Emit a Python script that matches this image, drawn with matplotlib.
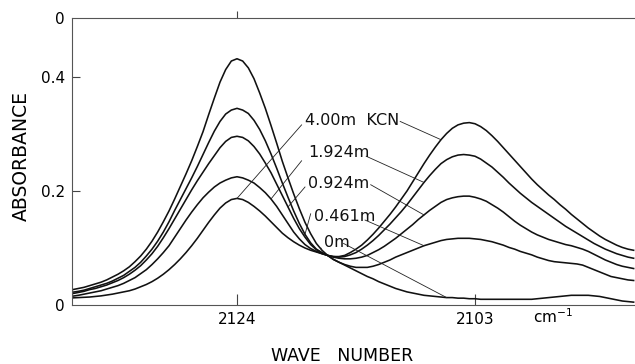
import matplotlib.pyplot as plt
import numpy as np

# IR absorbance of the CN stretch region for increasing KCN molality
wavenumber = np.arange(2139, 2088.75, -0.5)  # cm^-1, 2139 ... 2089

absorb_0m = [
    0.025, 0.027, 0.029, 0.031, 0.034, 0.037, 0.040, 0.044, 0.049, 0.054,
    0.060, 0.067, 0.076, 0.086, 0.098, 0.112, 0.128, 0.146, 0.165, 0.186,
    0.208, 0.230, 0.253, 0.278, 0.304, 0.334, 0.363, 0.391, 0.413, 0.428,
    0.432, 0.428, 0.416, 0.397, 0.372, 0.345, 0.315, 0.284, 0.252, 0.223,
    0.195, 0.169, 0.145, 0.125, 0.108, 0.096, 0.087, 0.080, 0.075, 0.070,
    0.065, 0.060, 0.055, 0.050, 0.046, 0.041, 0.037, 0.033, 0.029, 0.026,
    0.023, 0.021, 0.019, 0.017, 0.016, 0.015, 0.014, 0.013, 0.013, 0.012,
    0.012, 0.011, 0.011, 0.010, 0.010, 0.010, 0.010, 0.010, 0.010, 0.010,
    0.010, 0.010, 0.010, 0.011, 0.012, 0.013, 0.014, 0.015, 0.016, 0.017,
    0.017, 0.017, 0.017, 0.016, 0.015, 0.013, 0.011, 0.009, 0.007, 0.006,
    0.005,
]
absorb_0461m = [
    0.021, 0.0225, 0.024, 0.026, 0.029, 0.032, 0.035, 0.038, 0.042, 0.047,
    0.052, 0.059, 0.066, 0.075, 0.086, 0.098, 0.112, 0.128, 0.146, 0.166,
    0.185, 0.204, 0.223, 0.243, 0.264, 0.285, 0.305, 0.322, 0.335, 0.342,
    0.345, 0.342, 0.336, 0.324, 0.308, 0.288, 0.265, 0.240, 0.214, 0.189,
    0.165, 0.143, 0.124, 0.109, 0.098, 0.092, 0.087, 0.080, 0.075, 0.071,
    0.068, 0.066, 0.066, 0.066, 0.068, 0.071, 0.075, 0.079, 0.084, 0.088,
    0.092, 0.096, 0.100, 0.104, 0.107, 0.110, 0.113, 0.115, 0.116, 0.117,
    0.117, 0.117, 0.116, 0.115, 0.113, 0.111, 0.108, 0.105, 0.101, 0.098,
    0.094, 0.091, 0.088, 0.084, 0.081, 0.078, 0.076, 0.075, 0.074, 0.073,
    0.072, 0.070, 0.066, 0.062, 0.058, 0.054, 0.050, 0.048, 0.046, 0.044,
    0.043,
]
absorb_0924m = [
    0.019, 0.020, 0.022, 0.024, 0.027, 0.029, 0.032, 0.035, 0.039, 0.043,
    0.048, 0.054, 0.061, 0.069, 0.079, 0.090, 0.103, 0.118, 0.134, 0.151,
    0.168, 0.185, 0.202, 0.218, 0.233, 0.248, 0.262, 0.276, 0.287, 0.294,
    0.296, 0.294, 0.288, 0.278, 0.265, 0.249, 0.232, 0.212, 0.192, 0.172,
    0.152, 0.134, 0.119, 0.106, 0.097, 0.091, 0.087, 0.084, 0.082, 0.081,
    0.081, 0.082, 0.084, 0.087, 0.092, 0.097, 0.103, 0.110, 0.117, 0.125,
    0.133, 0.141, 0.150, 0.158, 0.166, 0.173, 0.180, 0.185, 0.188, 0.190,
    0.191, 0.191, 0.189, 0.186, 0.182, 0.176, 0.170, 0.163, 0.155, 0.147,
    0.140, 0.134, 0.128, 0.123, 0.119, 0.115, 0.112, 0.109, 0.106, 0.104,
    0.101, 0.098, 0.094, 0.089, 0.084, 0.079, 0.075, 0.071, 0.068, 0.066,
    0.064,
]
absorb_1924m = [
    0.014, 0.0155, 0.017, 0.019, 0.021, 0.023, 0.025, 0.028, 0.031, 0.034,
    0.038, 0.043, 0.048, 0.055, 0.062, 0.071, 0.081, 0.092, 0.104, 0.119,
    0.134, 0.149, 0.163, 0.176, 0.188, 0.198, 0.207, 0.214, 0.219, 0.223,
    0.225, 0.223, 0.219, 0.214, 0.206, 0.197, 0.186, 0.173, 0.158, 0.143,
    0.128, 0.116, 0.106, 0.099, 0.094, 0.090, 0.087, 0.085, 0.084, 0.085,
    0.088, 0.092, 0.098, 0.105, 0.113, 0.122, 0.132, 0.142, 0.153, 0.164,
    0.176, 0.189, 0.202, 0.215, 0.227, 0.238, 0.248, 0.255, 0.260, 0.263,
    0.264, 0.263, 0.261, 0.256, 0.249, 0.242, 0.233, 0.224, 0.214, 0.205,
    0.196, 0.188, 0.180, 0.173, 0.166, 0.159, 0.152, 0.145, 0.138, 0.132,
    0.126, 0.120, 0.114, 0.108, 0.103, 0.098, 0.094, 0.090, 0.087, 0.084,
    0.082,
]
absorb_400m = [
    0.012, 0.0125, 0.013, 0.0135, 0.014, 0.015, 0.016, 0.0175, 0.019, 0.021,
    0.023, 0.025, 0.028, 0.032, 0.036, 0.041, 0.047, 0.054, 0.062, 0.071,
    0.081, 0.092, 0.104, 0.117, 0.131, 0.145, 0.158, 0.170, 0.179, 0.185,
    0.187, 0.185, 0.180, 0.173, 0.165, 0.156, 0.146, 0.136, 0.126, 0.118,
    0.111, 0.105, 0.100, 0.096, 0.093, 0.090, 0.087, 0.085, 0.085, 0.087,
    0.092, 0.098, 0.105, 0.114, 0.124, 0.135, 0.147, 0.159, 0.172, 0.186,
    0.200, 0.216, 0.232, 0.248, 0.263, 0.277, 0.290, 0.301, 0.310, 0.316,
    0.319, 0.320, 0.318, 0.313, 0.306, 0.297, 0.287, 0.276, 0.265, 0.254,
    0.243, 0.232, 0.221, 0.211, 0.202, 0.193, 0.185, 0.176, 0.168, 0.159,
    0.151, 0.143, 0.135, 0.128, 0.121, 0.115, 0.110, 0.105, 0.101, 0.098,
    0.096,
]

spectra = [absorb_400m, absorb_1924m, absorb_0924m, absorb_0461m, absorb_0m]
conc_labels = ["4.00m  KCN", "1.924m", "0.924m", "0.461m", "0m"]

# label anchors (wavenumber, absorbance), leader start points and the
# wavenumber on each spectrum where its leader lands
label_pos = [(2118.0, 0.323), (2117.7, 0.267), (2117.7, 0.214), (2117.2, 0.156), (2116.3, 0.110)]
right_start = [(2109.6, 0.322), (2112.6, 0.261), (2112.2, 0.211), (2112.7, 0.149), (2114.6, 0.108)]
right_target = [2106.0, 2107.5, 2107.5, 2107.5, 2105.5]
left_start = [(2118.3, 0.316), (2118.3, 0.253), (2118.0, 0.207), (2117.5, 0.160), (2116.6, 0.100)]
left_target = [2124.0, 2121.0, 2119.5, 2118.0, 2116.5]

x_left, x_right = 2138.56, 2088.88
y_top = 0.5035

fig = plt.figure(figsize=(6.35, 3.64), dpi=100)
ax = fig.add_axes([72 / 635, 1 - 305 / 364, 1 - 72 / 635, (305 - 18) / 364])

for y in spectra:
    ax.plot(wavenumber, y, color="#111111", lw=1.15, solid_joinstyle="round")


def value_at(y, w):
    return y[int(np.argmin(np.abs(wavenumber - w)))]


for i, text in enumerate(conc_labels):
    ax.text(label_pos[i][0], label_pos[i][1], text, fontsize=11.5, va="center",
            ha="left", color="#111111")
    y = spectra[i]
    for start, w in [(right_start[i], right_target[i]), (left_start[i], left_target[i])]:
        ax.plot([start[0], w], [start[1], value_at(y, w)], color="#222222", lw=0.6)

ax.set_xlim(x_left, x_right)
ax.set_ylim(0, y_top)

for side in ["left", "bottom", "top"]:
    ax.spines[side].set_color("#555555")
    ax.spines[side].set_linewidth(0.8)
ax.spines["right"].set_visible(False)

ax.set_xticks([2124, 2103], ["2124", "2103"])
ax.set_yticks([0, 0.2, 0.4, y_top], ["0", "0.2", "0.4", "0"])
ax.tick_params(axis="x", direction="in", length=8, width=0.8, color="#444444",
               labelsize=11, pad=5)
ax.tick_params(axis="y", direction="in", length=6, width=0.8, color="#444444",
               labelsize=11, pad=5)
ax.yaxis.get_major_ticks()[0].tick1line.set_visible(False)
ax.yaxis.get_major_ticks()[3].tick1line.set_visible(False)

top = ax.secondary_xaxis("top")
top.set_xticks([2124], [""])
top.tick_params(direction="out", length=5, width=0.8, color="#444444")
top.spines["top"].set_visible(False)

ax.text(2097.9, -0.031, "cm$^{-1}$", fontsize=11, va="baseline", ha="left")

fig.text(21 / 635, 1 - 156 / 364, "ABSORBANCE", rotation=90, fontsize=13.5,
         ha="center", va="center")
fig.text(342 / 635, 1 - 356 / 364, "WAVE   NUMBER", fontsize=12.5,
         ha="center", va="center")

fig.savefig("out.png", dpi=100, facecolor="white")
